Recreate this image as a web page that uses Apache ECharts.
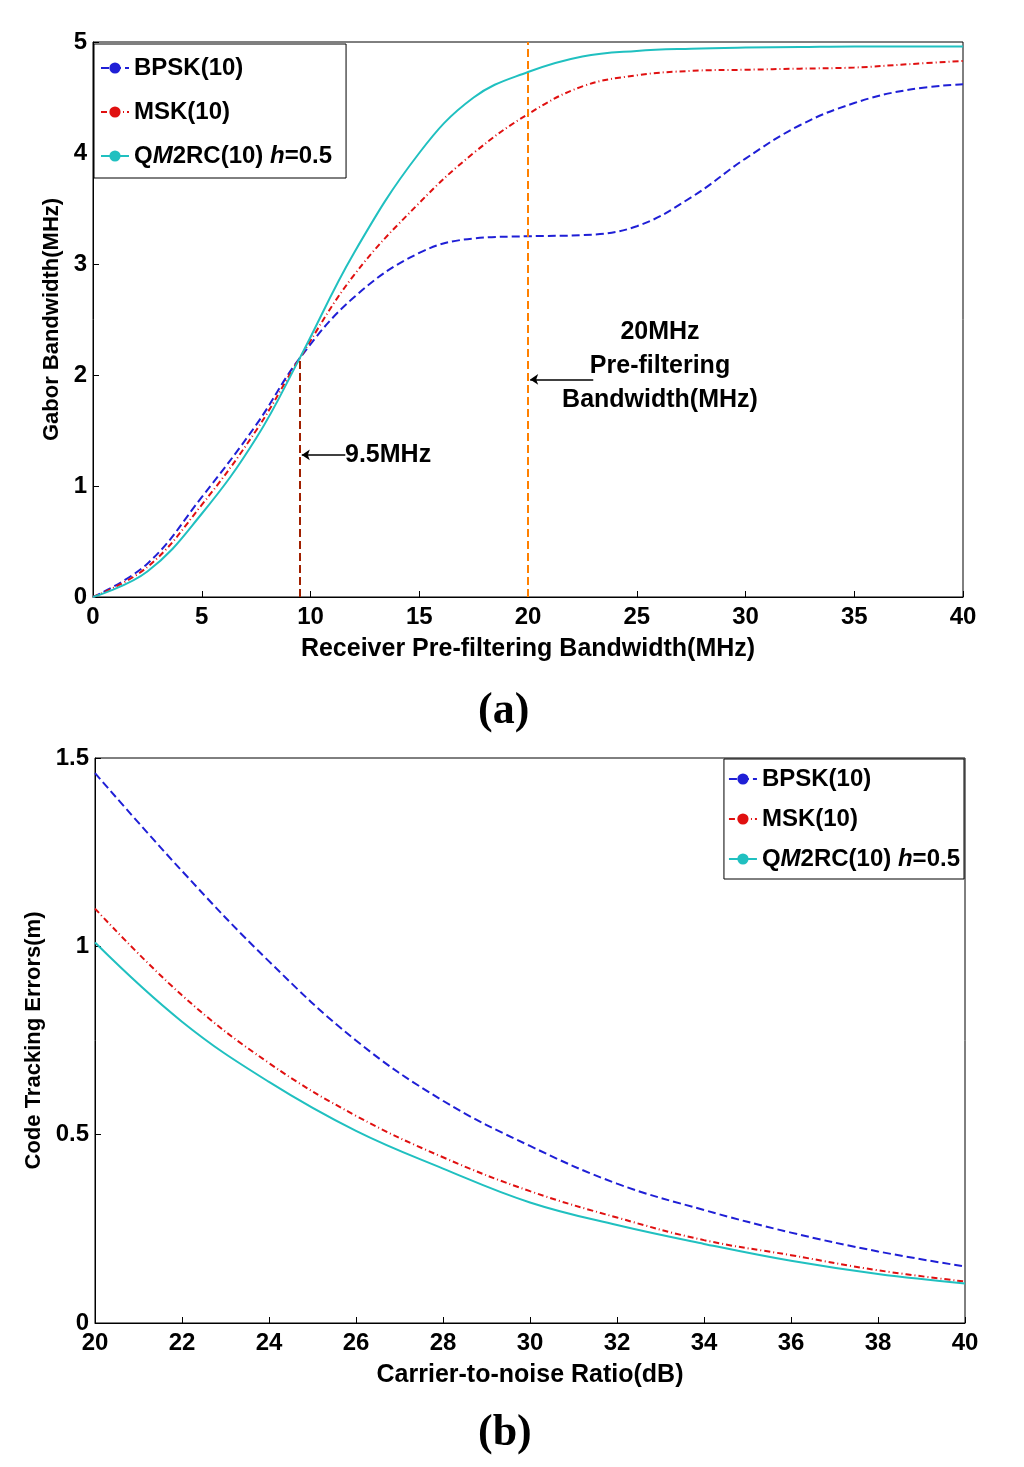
<!DOCTYPE html>
<html><head><meta charset="utf-8">
<script src="https://cdn.jsdelivr.net/npm/echarts@6/dist/echarts.min.js"></script>
<style>html,body{margin:0;background:#fff}#c{width:1024px;height:1467px}</style>
</head><body><div id="c"></div>
<script>
const xA = [0,2.5,5,7.5,9.5,12,15,17.5,20,22.5,25,27.5,30,32.5,35,37.5,40];
const bpskA = [0,0.3,0.9,1.55,2.15,2.7,3.1,3.23,3.25,3.26,3.34,3.6,3.95,4.25,4.45,4.57,4.62];
const mskA  = [0,0.27,0.83,1.5,2.15,2.9,3.55,4.0,4.35,4.6,4.7,4.74,4.75,4.76,4.77,4.8,4.83];
const qmA   = [0,0.23,0.75,1.43,2.15,3.1,4.0,4.5,4.73,4.87,4.92,4.94,4.95,4.955,4.96,4.96,4.96];
const xB = [20,22,24,26,28,30,32,34,36,38,40];
const bpskB = [1.46,1.2,0.96,0.75,0.59,0.47,0.37,0.3,0.24,0.19,0.15];
const mskB  = [1.1,0.87,0.69,0.55,0.44,0.35,0.28,0.22,0.18,0.14,0.11];
const qmB   = [1.01,0.8,0.64,0.51,0.41,0.32,0.26,0.21,0.165,0.13,0.105];
const names = ['BPSK(10)','MSK(10)','QM2RC(10) h=0.5'];
const colors = ['#1f1fd6','#e01010','#20c0c0'];
const types = ['dashed',[6,3,1,3],'solid'];
const F = "'Liberation Sans Narrow','Liberation Sans',Arial";
const pair = (xs, ys) => xs.map((x,i)=>[x,ys[i]]);
const tl = {fontFamily:F,fontWeight:'bold',fontSize:24,color:'#000'};
function mk(idx, xs, ys, k){
  return {name:names[k],type:'line',xAxisIndex:idx,yAxisIndex:idx,data:pair(xs,ys),smooth:0.4,symbol:'none',showSymbol:false,
    lineStyle:{color:colors[k],width:2,type:types[k]},itemStyle:{color:colors[k]}};
}
const series = [mk(0,xA,bpskA,0),mk(0,xA,mskA,1),mk(0,xA,qmA,2),mk(1,xB,bpskB,0),mk(1,xB,mskB,1),mk(1,xB,qmB,2)];
series[0].markLine = {silent:true,symbol:['none','none'],label:{show:false},data:[
  [{coord:[9.5,0],lineStyle:{color:'#a02000',type:'dashed',width:2}},{coord:[9.5,2.15]}],
  [{coord:[20,0],lineStyle:{color:'#ff8000',type:'dashed',width:2}},{coord:[20,5]}],
  [{coord:[11.6,1.28],lineStyle:{color:'#000',type:'solid',width:1.5},symbol:'none'},{coord:[9.6,1.28],symbol:'arrow',symbolSize:8}],
  [{coord:[23,1.96],lineStyle:{color:'#000',type:'solid',width:1.5},symbol:'none'},{coord:[20.1,1.96],symbol:'arrow',symbolSize:8}]
]};
const legText = {rich:{i:{fontStyle:'italic',fontFamily:F,fontWeight:'bold',fontSize:24}}};
const fmt = n => n==='QM2RC(10) h=0.5' ? 'Q{i|M}2RC(10) {i|h}=0.5' : n;
const chart = echarts.init(document.getElementById('c'));
chart.setOption({
  animation:false,
  grid:[{left:93,right:61,top:42,height:555,show:true,borderColor:'#000',borderWidth:1},
        {left:95,right:59,top:758,height:565,show:true,borderColor:'#000',borderWidth:1}],
  legend:[
    {data:names.map(n=>({name:n})),orient:'vertical',left:94,top:44,itemGap:20,padding:[12,14,10,6],itemWidth:28,
     borderColor:'#000',borderWidth:1,backgroundColor:'#fff',textStyle:{...tl,...legText},formatter:fmt},
    {data:names.map(n=>({name:n})),orient:'vertical',right:60,top:759,itemGap:16,padding:[8,4,8,4],itemWidth:28,
     borderColor:'#000',borderWidth:1,backgroundColor:'#fff',textStyle:{...tl,...legText},formatter:fmt}
  ],
  xAxis:[
    {gridIndex:0,type:'value',min:0,max:40,interval:5,splitLine:{show:false},axisLine:{lineStyle:{color:'#000'}},
     axisTick:{inside:true,length:6},axisLabel:{...tl,margin:8},name:'Receiver Pre-filtering Bandwidth(MHz)',
     nameLocation:'middle',nameGap:40,nameTextStyle:{...tl,fontSize:25}},
    {gridIndex:1,type:'value',min:20,max:40,interval:2,splitLine:{show:false},axisLine:{lineStyle:{color:'#000'}},
     axisTick:{inside:true,length:6},axisLabel:{...tl,margin:8},name:'Carrier-to-noise Ratio(dB)',
     nameLocation:'middle',nameGap:40,nameTextStyle:{...tl,fontSize:25}}
  ],
  yAxis:[
    {gridIndex:0,type:'value',min:0,max:5,interval:1,splitLine:{show:false},axisLine:{lineStyle:{color:'#000'}},
     axisTick:{inside:true,length:6},axisLabel:{...tl,margin:6},name:'Gabor Bandwidth(MHz)',nameLocation:'middle',
     nameGap:26,nameTextStyle:{fontFamily:'Liberation Sans',fontWeight:'bold',fontSize:22,color:'#000'}},
    {gridIndex:1,type:'value',min:0,max:1.5,interval:0.5,splitLine:{show:false},axisLine:{lineStyle:{color:'#000'}},
     axisTick:{inside:true,length:6},axisLabel:{...tl,margin:6,formatter:v=>v===0?'0':String(v)},name:'Code Tracking Errors(m)',
     nameLocation:'middle',nameGap:44,nameTextStyle:{fontFamily:'Liberation Sans',fontWeight:'bold',fontSize:22,color:'#000'}}
  ],
  graphic:[
    {type:'text',left:345,top:443,style:{text:'9.5MHz',font:"bold 25px "+F,fill:'#000'}},
    {type:'text',x:660,y:320,style:{text:'20MHz',font:"bold 25px "+F,fill:'#000',textAlign:'center'}},
    {type:'text',x:660,y:354,style:{text:'Pre-filtering',font:"bold 25px "+F,fill:'#000',textAlign:'center'}},
    {type:'text',x:660,y:388,style:{text:'Bandwidth(MHz)',font:"bold 25px "+F,fill:'#000',textAlign:'center'}},
    {type:'text',left:478,top:690,style:{text:'(a)',font:"bold 44px 'Liberation Serif'",fill:'#000'}},
    {type:'text',left:478,top:1412,style:{text:'(b)',font:"bold 44px 'Liberation Serif'",fill:'#000'}}
  ],
  series
});
</script></body></html>
